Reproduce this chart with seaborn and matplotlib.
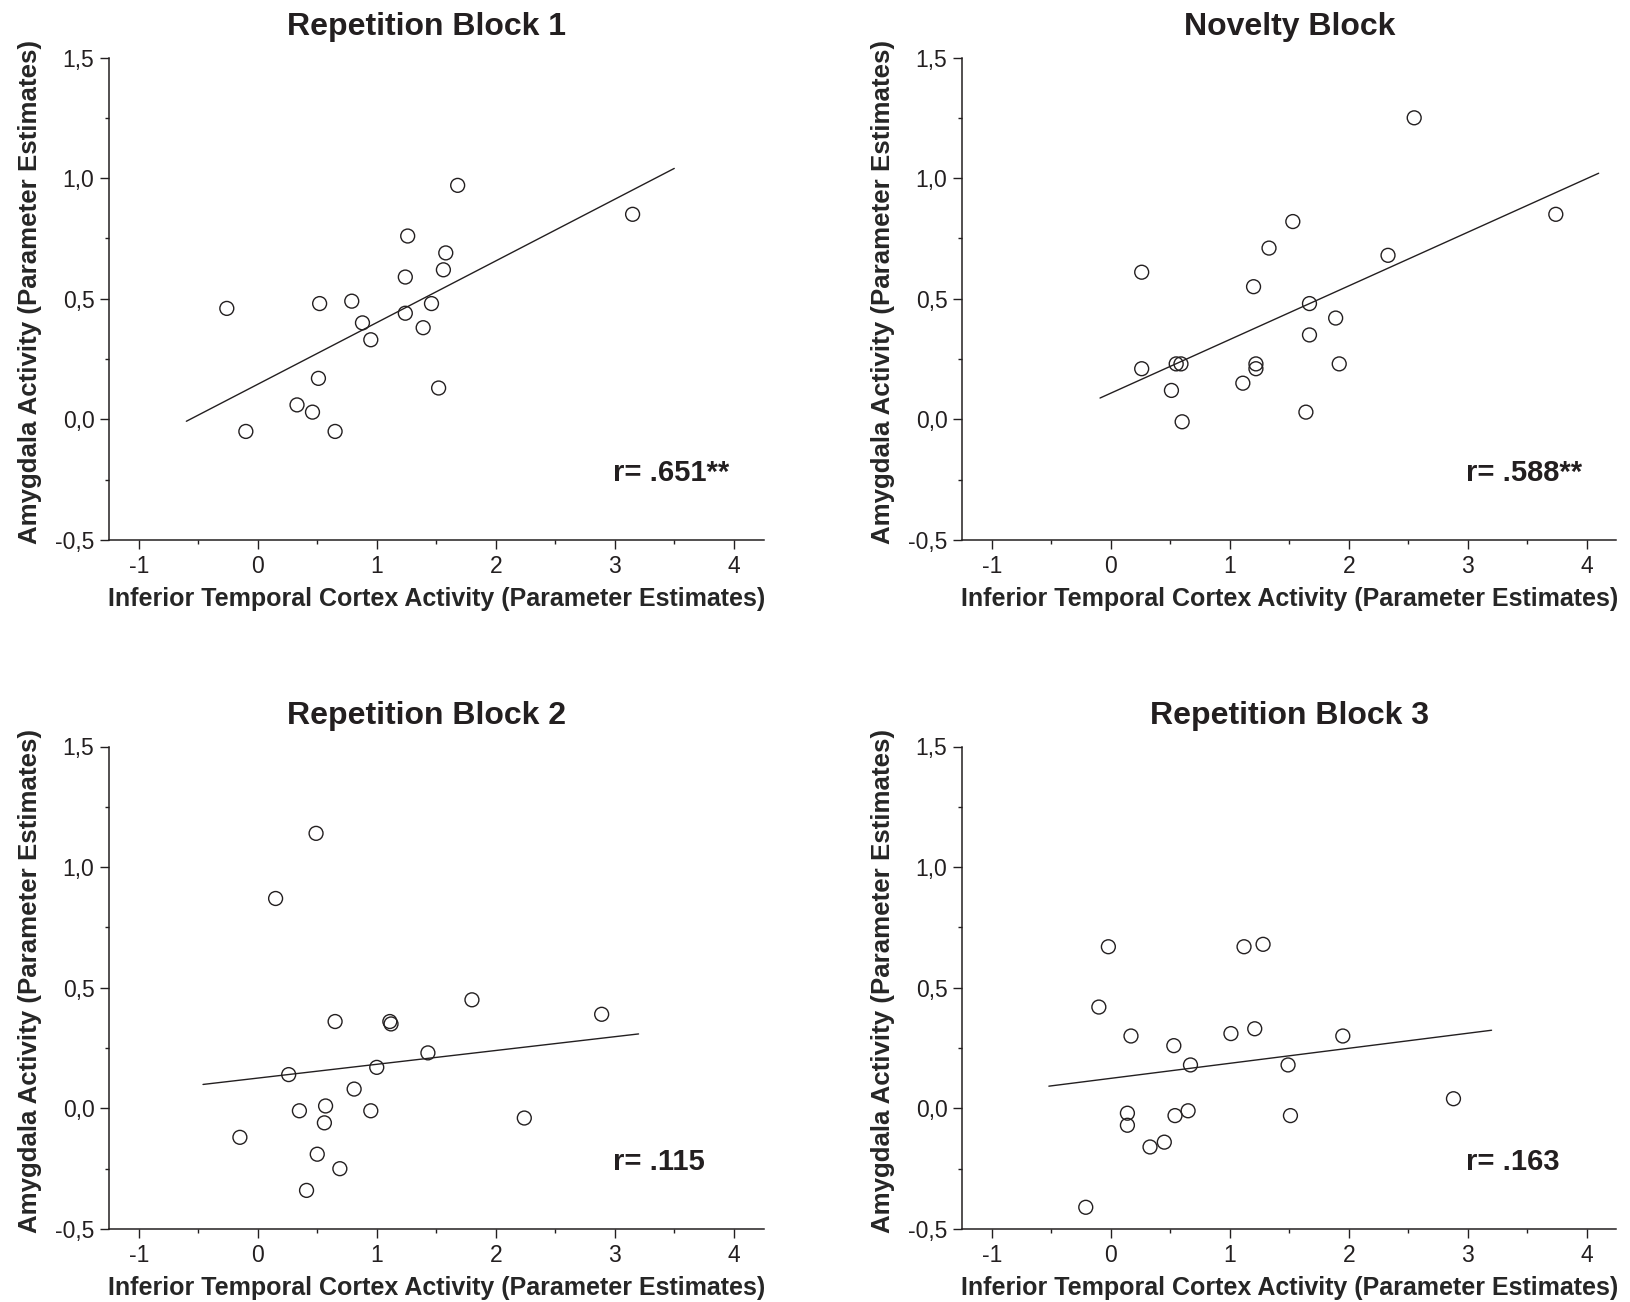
import matplotlib
matplotlib.use("Agg")
import matplotlib.pyplot as plt
from matplotlib.ticker import MultipleLocator
import seaborn as sns
import numpy as np
import pandas as pd

# ---- values ----
panel_titles = ["Repetition Block 1", "Novelty Block",
                "Repetition Block 2", "Repetition Block 3"]
r_labels = ["r= .651**", "r= .588**", "r= .115", "r= .163"]

rep1_x = [-0.26, -0.10, 0.33, 0.46, 0.51, 0.52, 0.65, 0.79, 0.88, 0.95,
          1.24, 1.24, 1.26, 1.39, 1.46, 1.52, 1.56, 1.58, 1.68, 3.15]
rep1_y = [0.46, -0.05, 0.06, 0.03, 0.17, 0.48, -0.05, 0.49, 0.40, 0.33,
          0.59, 0.44, 0.76, 0.38, 0.48, 0.13, 0.62, 0.69, 0.97, 0.85]

nov_x = [0.26, 0.26, 0.51, 0.55, 0.59, 0.60, 1.11, 1.20, 1.22, 1.22,
         1.33, 1.53, 1.64, 1.67, 1.67, 1.89, 1.92, 2.33, 2.55, 3.74]
nov_y = [0.61, 0.21, 0.12, 0.23, 0.23, -0.01, 0.15, 0.55, 0.23, 0.21,
         0.71, 0.82, 0.03, 0.48, 0.35, 0.42, 0.23, 0.68, 1.25, 0.85]

rep2_x = [-0.15, 0.15, 0.26, 0.35, 0.41, 0.49, 0.50, 0.56, 0.57, 0.65,
          0.69, 0.81, 0.95, 1.00, 1.11, 1.12, 1.43, 1.80, 2.24, 2.89]
rep2_y = [-0.12, 0.87, 0.14, -0.01, -0.34, 1.14, -0.19, -0.06, 0.01, 0.36,
          -0.25, 0.08, -0.01, 0.17, 0.36, 0.35, 0.23, 0.45, -0.04, 0.39]

rep3_x = [-0.21, -0.10, -0.02, 0.14, 0.14, 0.17, 0.33, 0.45, 0.53, 0.54,
          0.65, 0.67, 1.01, 1.12, 1.21, 1.28, 1.49, 1.51, 1.95, 2.88]
rep3_y = [-0.41, 0.42, 0.67, -0.02, -0.07, 0.30, -0.16, -0.14, 0.26, -0.03,
          -0.01, 0.18, 0.31, 0.67, 0.33, 0.68, 0.18, -0.03, 0.30, 0.04]

# x extent of each drawn regression line
fit_lo = [-0.60, -0.09, -0.46, -0.52]
fit_hi = [3.50, 4.10, 3.20, 3.20]

x_ticks = [-1, 0, 1, 2, 3, 4]
x_ticklabels = ["-1", "0", "1", "2", "3", "4"]
y_ticks = [-0.5, 0.0, 0.5, 1.0, 1.5]
y_ticklabels = ["-0,5", "0,0", "0,5", "1,0", "1,5"]

x_label = "Inferior Temporal Cortex Activity (Parameter Estimates)"
y_label = "Amygdala Activity (Parameter Estimates)"

panels = [(rep1_x, rep1_y), (nov_x, nov_y), (rep2_x, rep2_y), (rep3_x, rep3_y)]

# ---- styling ----
sns.set_theme(style="ticks")
INK = "#231f20"
plt.rcParams["font.family"] = ["Liberation Sans", "DejaVu Sans"]
plt.rcParams["axes.edgecolor"] = INK
plt.rcParams["xtick.color"] = INK
plt.rcParams["ytick.color"] = INK
plt.rcParams["text.color"] = INK

W, H = 1631, 1302
fig = plt.figure(figsize=(W / 100, H / 100), dpi=100)

# axes boxes in pixels: (left, right) per column, (top, bottom) per row
col_px = [(109, 763.5), (962, 1616.5)]
row_px = [(57.5, 540), (746.5, 1229)]

for i, (xs, ys) in enumerate(panels):
    r, c = divmod(i, 2)
    l, rt = col_px[c]
    t, b = row_px[r]
    ax = fig.add_axes([l / W, 1 - b / H, (rt - l) / W, (b - t) / H])

    df = pd.DataFrame({"x": xs, "y": ys})
    sns.scatterplot(data=df, x="x", y="y", ax=ax, s=100, marker="o",
                    facecolor="none", edgecolor=INK, linewidth=1.0,
                    zorder=3, clip_on=False)

    slope, icpt = np.polyfit(df["x"], df["y"], 1)
    lx = np.array([fit_lo[i], fit_hi[i]])
    ax.plot(lx, icpt + slope * lx, color=INK, lw=1.0, zorder=2)

    ax.set_xlim(-1.25, 4.25)
    ax.set_ylim(-0.5, 1.5)
    ax.set_xticks(x_ticks)
    ax.set_xticklabels(x_ticklabels)
    ax.set_yticks(y_ticks)
    ax.set_yticklabels(y_ticklabels)
    ax.xaxis.set_minor_locator(MultipleLocator(0.5))
    ax.yaxis.set_minor_locator(MultipleLocator(0.25))
    ax.tick_params(which="major", direction="out", length=6.5, width=1.0,
                   labelsize=16.5, pad=4)
    ax.tick_params(which="minor", direction="out", length=2.8, width=1.0)

    sns.despine(ax=ax)
    for sp in ("left", "bottom"):
        ax.spines[sp].set_linewidth(1.1)
        ax.spines[sp].set_color(INK)

    ax.set_xlabel(x_label, fontsize=18, fontweight="bold")
    ax.set_ylabel(y_label, fontsize=18.6, fontweight="bold")
    ax.xaxis.set_label_coords(0.5, -0.097)
    ax.yaxis.set_label_coords(-0.102, 0.514)

    tx = 0.485 if c == 0 else 0.5
    ax.set_title(panel_titles[i], fontsize=23, fontweight="bold", pad=16, x=tx)

    ax.text(0.770, 0.1225, r_labels[i], transform=ax.transAxes,
            fontsize=21, fontweight="bold", ha="left", va="baseline")

fig.savefig("out.png", dpi=100, facecolor="white")
